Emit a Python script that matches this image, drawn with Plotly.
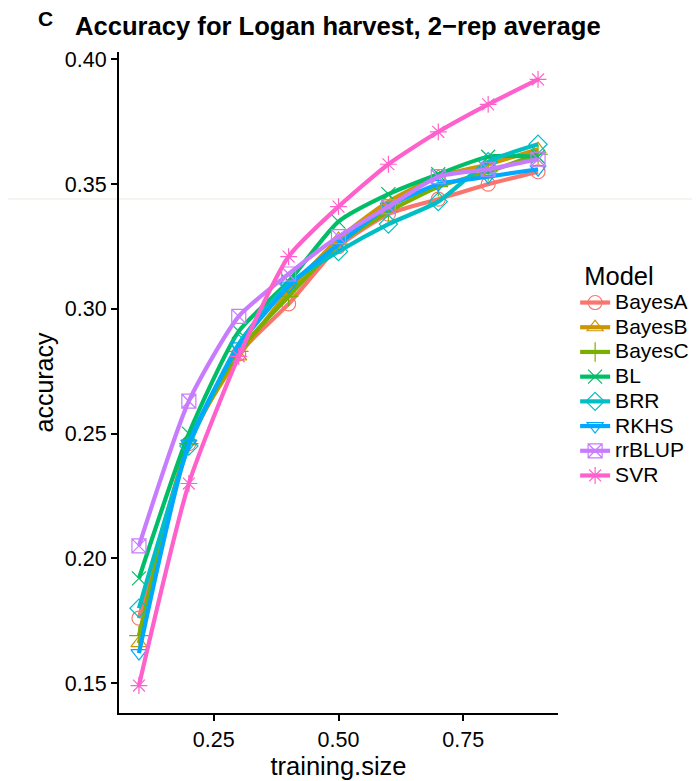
import plotly.graph_objects as go

training_size = [0.1, 0.2, 0.3, 0.4, 0.5, 0.6, 0.7, 0.8, 0.9]

models = ["BayesA", "BayesB", "BayesC", "BL", "BRR", "RKHS", "rrBLUP", "SVR"]

bayesA = [0.176, 0.246, 0.282, 0.302, 0.325, 0.338, 0.344, 0.350, 0.355]
bayesB = [0.166, 0.247, 0.281, 0.307, 0.328, 0.343, 0.353, 0.358, 0.364]
bayesC = [0.169, 0.246, 0.283, 0.305, 0.326, 0.339, 0.349, 0.355, 0.362]
bl     = [0.192, 0.250, 0.291, 0.311, 0.335, 0.346, 0.354, 0.361, 0.361]
brr    = [0.180, 0.245, 0.286, 0.310, 0.323, 0.334, 0.343, 0.359, 0.366]
rkhs   = [0.162, 0.246, 0.285, 0.309, 0.326, 0.341, 0.350, 0.353, 0.356]
rrblup = [0.205, 0.263, 0.297, 0.314, 0.329, 0.341, 0.353, 0.356, 0.360]
svr    = [0.149, 0.230, 0.281, 0.321, 0.341, 0.358, 0.371, 0.382, 0.392]

series = [bayesA, bayesB, bayesC, bl, brr, rkhs, rrblup, svr]
colors = ["#F8766D", "#CD9600", "#7CAE00", "#00BE67", "#00BFC4", "#00A9FF", "#C77CFF", "#FF61CC"]
symbols = ["circle-open", "triangle-up-open", "cross-thin-open", "x-thin-open",
           "diamond-open", "triangle-down-open", "square-x-open", "asterisk-open"]

y_ticks = [0.15, 0.20, 0.25, 0.30, 0.35, 0.40]
x_ticks = [0.25, 0.50, 0.75]

FONT = "Liberation Sans, Arial, Helvetica, sans-serif"

fig = go.Figure()
for name, vals, col, sym in zip(models, series, colors, symbols):
    fig.add_trace(go.Scatter(
        x=training_size, y=vals, name=f'<span style="font-size:21px">{name}</span>',
        mode="lines+markers",
        line=dict(color=col, width=4.2, shape="spline", smoothing=0.6),
        marker=dict(symbol=sym, size=14, color=col, line=dict(color=col, width=1.2)),
    ))

fig.update_layout(
    width=692, height=773,
    paper_bgcolor="white", plot_bgcolor="white",
    margin=dict(l=111, r=142, t=44, b=68, autoexpand=False),
    font=dict(family=FONT, color="black"),
    showlegend=True,
    legend=dict(
        title=dict(text="\u00a0Model", font=dict(size=25.5, color="black")),
        font=dict(size=16.7, color="black"),
        x=1.039, xanchor="left", y=0.6974, yanchor="top",
        tracegroupgap=0, itemwidth=30,
        bgcolor="rgba(0,0,0,0)",
    ),
    xaxis=dict(
        range=[0.06, 0.94], tickvals=x_ticks, ticktext=["0.25", "0.50", "0.75"],
        showgrid=False, zeroline=False, showline=True, linecolor="black", linewidth=2,
        ticks="outside", ticklen=6, tickwidth=1.5, tickcolor="black", automargin=False,
        tickfont=dict(size=21.5, color="black"),
        title=dict(text="training.size", font=dict(size=25.5, color="black"), standoff=0),
    ),
    yaxis=dict(
        range=[0.138, 0.403], tickvals=y_ticks, ticktext=[f"{v:.2f}" for v in y_ticks],
        showgrid=False, zeroline=False, showline=True, linecolor="black", linewidth=2,
        ticks="outside", ticklen=6, tickwidth=1.5, tickcolor="black", automargin=False,
        tickfont=dict(size=21.5, color="black"),
        title=dict(text="accuracy", font=dict(size=25, color="black"), standoff=4),
    ),
    annotations=[
        dict(text="<b>Accuracy for Logan harvest, 2\u2212rep average</b>", x=-0.105, y=1.0393,
             xref="paper", yref="paper", xanchor="left", yanchor="middle",
             showarrow=False, font=dict(size=25.6, color="black")),
        dict(text="<b>C</b>", x=-0.19, y=1.0514, xref="paper", yref="paper",
             xanchor="left", yanchor="middle",
             showarrow=False, font=dict(size=21, color="black")),
    ],
    shapes=[
        dict(type="line", xref="paper", yref="paper", x0=-0.3, x1=1.4, y0=0.7776, y1=0.7776,
             line=dict(color="#ebe9dc", width=1), layer="below"),
    ],
)

fig.write_html("out.html")
